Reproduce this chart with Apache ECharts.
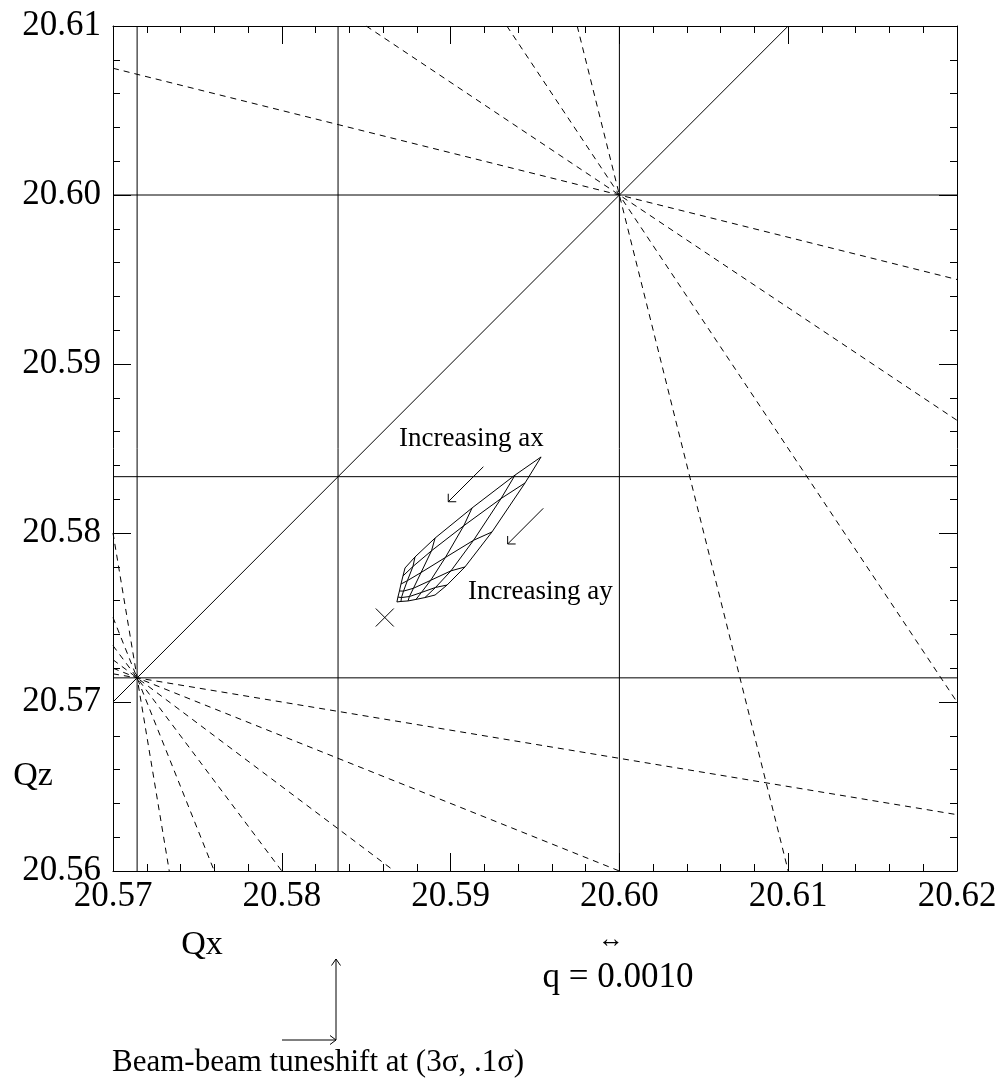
<!DOCTYPE html>
<html><head><meta charset="utf-8">
<script src="https://cdn.jsdelivr.net/npm/echarts@6/dist/echarts.min.js"></script>
<style>html,body{margin:0;padding:0;background:#fff}#c{width:1002px;height:1082px}</style>
</head><body><div id="c"></div>
<script>
// ---- data ----
const xTicks = [20.57, 20.58, 20.59, 20.60, 20.61, 20.62];
const yTicks = [20.56, 20.57, 20.58, 20.59, 20.60, 20.61];
// solid resonance lines (Qx = const, Qz = const, Qx = Qz)
const solidQx = [20.571429, 20.583333, 20.600000];
const solidQz = [20.571429, 20.583333, 20.600000];
const diagonal = [[20.57, 20.57], [20.61, 20.61]];
// dashed resonance lines (end points)
const dashedLines = [
  [[20.57, 20.6075], [20.62, 20.595]],
  [[20.585, 20.61], [20.62, 20.586667]],
  [[20.593333, 20.61], [20.62, 20.57]],
  [[20.5975, 20.61], [20.61, 20.56]],
  [[20.57, 20.571667], [20.62, 20.563333]],
  [[20.57, 20.572], [20.60, 20.56]],
  [[20.57, 20.5725], [20.586667, 20.56]],
  [[20.57, 20.573333], [20.58, 20.56]],
  [[20.57, 20.575], [20.576, 20.56]],
  [[20.57, 20.58], [20.573333, 20.56]]
];
// tune footprint mesh: rows = ax index, columns = ay index
const meshQx = [
  [20.59536, 20.59441, 20.59245, 20.59085, 20.58979, 20.58908],
  [20.59382, 20.59299, 20.59136, 20.59002, 20.58911, 20.58848],
  [20.59127, 20.59078, 20.58969, 20.58882, 20.58827, 20.58795],
  [20.58908, 20.58887, 20.58825, 20.58780, 20.58756, 20.58748],
  [20.58789, 20.58777, 20.58744, 20.58721, 20.58709, 20.58706],
  [20.58730, 20.58718, 20.58706, 20.58697, 20.58688, 20.58682]
];
const meshQz = [
  [20.58450, 20.58296, 20.58006, 20.57799, 20.57692, 20.57633],
  [20.58343, 20.58204, 20.57957, 20.57776, 20.57678, 20.57618],
  [20.58148, 20.58043, 20.57855, 20.57720, 20.57648, 20.57607],
  [20.57970, 20.57895, 20.57766, 20.57673, 20.57624, 20.57598],
  [20.57858, 20.57802, 20.57718, 20.57656, 20.57618, 20.57595],
  [20.57793, 20.57746, 20.57698, 20.57657, 20.57621, 20.57592]
];
const bareTune = [[20.5861, 20.5750]];
// annotation arrows [fromQx, fromQz, toQx, toQz]
const arrows = [
  [20.59194, 20.58392, 20.58986, 20.58185],
  [20.59549, 20.58146, 20.59338, 20.57935]
];

// ---- chart ----
const FONT = "'Liberation Serif','Times New Roman',serif";
const chart = echarts.init(document.getElementById('c'), null, {renderer: 'canvas'});

const series = [];
const solid = {color: '#000', width: 1, type: 'solid'};
function addLine(data, style, z) {
  series.push({type: 'line', data: data, symbol: 'none', showSymbol: false, silent: true,
    animation: false, clip: true, lineStyle: style, z: z || 2});
}
solidQx.forEach(x => addLine([[x, yTicks[0]], [x, yTicks[yTicks.length - 1]]], solid));
solidQz.forEach(y => addLine([[xTicks[0], y], [xTicks[xTicks.length - 1], y]], solid));
addLine(diagonal, solid);
dashedLines.forEach(l => addLine(l, {color: '#000', width: 1, type: [6, 5]}));
for (let i = 0; i < meshQx.length; i++) {
  addLine(meshQx[i].map((x, j) => [x, meshQz[i][j]]), solid, 3);
}
for (let j = 0; j < meshQx[0].length; j++) {
  addLine(meshQx.map((row, i) => [row[j], meshQz[i][j]]), solid, 3);
}
const ln = (x1, y1, x2, y2) => ({type: 'line', shape: {x1, y1, x2, y2}, style: {stroke: '#000', lineWidth: 1}});
series.push({
  type: 'custom', data: bareTune, silent: true, animation: false,
  encode: {x: 0, y: 1},
  renderItem: (p, api) => {
    const c = api.coord([api.value(0), api.value(1)]);
    const h = 9;
    return {type: 'group', children: [ln(c[0] - h, c[1] - h, c[0] + h, c[1] + h), ln(c[0] - h, c[1] + h, c[0] + h, c[1] - h)]};
  }
});
series.push({
  type: 'custom', data: arrows, silent: true, animation: false,
  encode: {x: [0, 2], y: [1, 3]},
  renderItem: (p, api) => {
    const a = api.coord([api.value(0), api.value(1)]);
    const b = api.coord([api.value(2), api.value(3)]);
    const dx = b[0] - a[0], dy = b[1] - a[1], L = Math.hypot(dx, dy);
    const ux = -dx / L, uy = -dy / L, len = 8, ang = Math.PI / 4;
    const arm = s => {
      const c = Math.cos(s * ang), sn = Math.sin(s * ang);
      return ln(b[0], b[1], b[0] + len * (ux * c - uy * sn), b[1] + len * (ux * sn + uy * c));
    };
    return {type: 'group', children: [ln(a[0], a[1], b[0], b[1]), arm(1), arm(-1)]};
  }
});

function axisBase(min, max, showLabel, margin) {
  return {
    type: 'value', min: min, max: max, interval: 0.01,
    axisLine: {show: true, onZero: false, lineStyle: {color: '#000', width: 1}},
    axisTick: {show: true, inside: true, length: 18, lineStyle: {color: '#000', width: 1}},
    minorTick: {show: true, splitNumber: 5, length: 7, lineStyle: {color: '#000', width: 1}},
    splitLine: {show: false}, minorSplitLine: {show: false},
    axisLabel: {show: showLabel, margin: margin, color: '#000', fontFamily: FONT, fontSize: 35,
      showMinLabel: true, showMaxLabel: true, formatter: v => v.toFixed(2)}
  };
}
const xMin = xTicks[0], xMax = xTicks[xTicks.length - 1];
const yMin = yTicks[0], yMax = yTicks[yTicks.length - 1];

const txt = (text, x, y, size, align) => ({type: 'text', x: x, y: y, silent: true,
  style: {text: text, fontFamily: FONT, fontSize: size, fill: '#000', align: align || 'center', verticalAlign: 'middle'}});

chart.setOption({
  animation: false,
  backgroundColor: '#fff',
  grid: {left: 113, top: 26, width: 844, height: 845, containLabel: false, outerBoundsMode: 'none', show: false},
  xAxis: [Object.assign(axisBase(xMin, xMax, true, 8), {position: 'bottom'}),
          Object.assign(axisBase(xMin, xMax, false, 8), {position: 'top'})],
  yAxis: [Object.assign(axisBase(yMin, yMax, true, 12), {position: 'left'}),
          Object.assign(axisBase(yMin, yMax, false, 12), {position: 'right'})],
  series: series,
  graphic: [
    txt('Qz', 33, 776, 34),
    txt('Qx', 202, 945, 34),
    txt('\u2194', 611, 940, 26),
    txt('q = 0.0010', 618, 978, 35),
    txt('Beam-beam tuneshift at (3\u03c3, .1\u03c3)', 112, 1063, 31, 'left'),
    txt('Increasing ax', 399, 439, 27, 'left'),
    txt('Increasing ay', 468, 592, 27, 'left'),
    ln(336, 1040, 336, 959), ln(336, 959, 331.5, 965.5), ln(336, 959, 340.5, 965.5),
    ln(282, 1040, 336, 1040), ln(336, 1040, 330, 1035.5), ln(336, 1040, 330, 1044.5)
  ]
});
</script></body></html>
